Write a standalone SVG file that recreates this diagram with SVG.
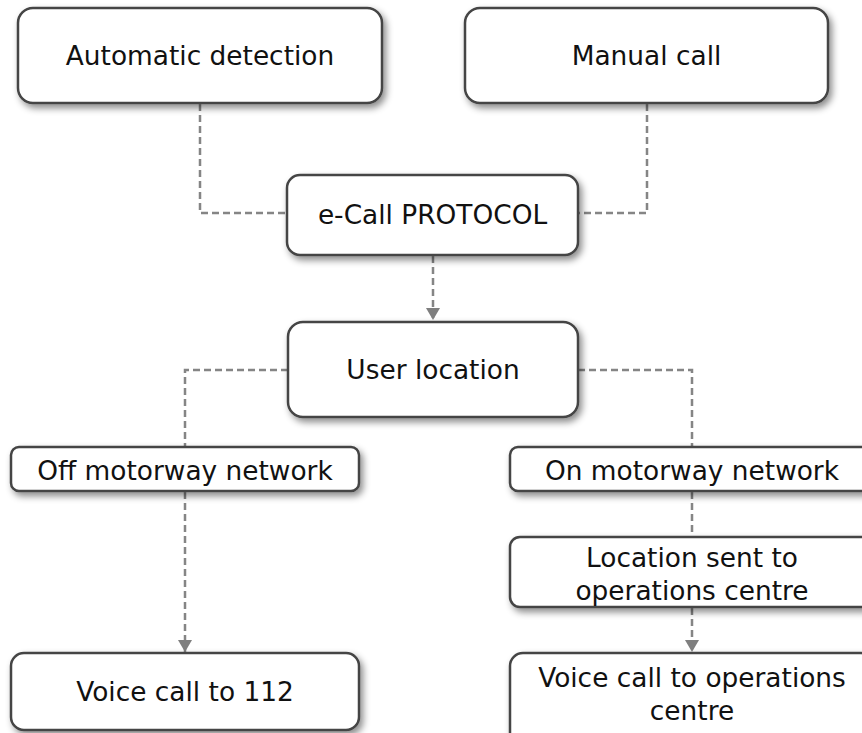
<svg xmlns="http://www.w3.org/2000/svg" width="862" height="733" viewBox="0 0 862 733">
  <defs>
    <filter id="sh" x="-10%" y="-20%" width="130%" height="150%">
      <feDropShadow dx="3" dy="4" stdDeviation="3.5" flood-color="#000" flood-opacity="0.45"/>
    </filter>
    <marker id="arr" markerWidth="14" markerHeight="16" refX="12" refY="7" orient="auto" markerUnits="userSpaceOnUse">
      <path d="M0,0 L12,7 L0,14 Z" fill="#7f7f7f"/>
    </marker>
  </defs>
  <style>
    .box { fill: #ffffff; stroke: #444444; stroke-width: 2.5; filter: url(#sh); }
    .lbl { font-family: "DejaVu Sans", Verdana, sans-serif; font-size: 26.4px; fill: #111111; text-anchor: middle; }
    .con { fill: none; stroke: #858585; stroke-width: 2.5; stroke-dasharray: 7 4; }
  </style>
  <rect width="862" height="733" fill="#ffffff"/>

  <g id="connectors">
    <path class="con" d="M200,104 V213 H287"/>
    <path class="con" d="M647,104 V213 H578"/>
    <path class="con" d="M433,256 V320" marker-end="url(#arr)"/>
    <path class="con" d="M288,370 H185 V447"/>
    <path class="con" d="M578,370 H692 V447"/>
    <path class="con" d="M185,492 V652" marker-end="url(#arr)"/>
    <path class="con" d="M692,492 V537"/>
    <path class="con" d="M692,608 V652" marker-end="url(#arr)"/>
  </g>

  <g id="automatic-detection">
    <rect class="box" x="18" y="8" width="364" height="95" rx="15"/>
    <text class="lbl" x="200" y="65">Automatic detection</text>
  </g>
  <g id="manual-call">
    <rect class="box" x="465" y="8" width="363" height="95" rx="15"/>
    <text class="lbl" x="646.5" y="65">Manual call</text>
  </g>
  <g id="ecall-protocol">
    <rect class="box" x="287" y="175" width="291" height="80" rx="13"/>
    <text class="lbl" x="432.5" y="224">e-Call PROTOCOL</text>
  </g>
  <g id="user-location">
    <rect class="box" x="288" y="322" width="290" height="95" rx="15"/>
    <text class="lbl" x="433" y="379">User location</text>
  </g>
  <g id="off-motorway">
    <rect class="box" x="11" y="447" width="348" height="44" rx="8"/>
    <text class="lbl" x="185" y="480">Off motorway network</text>
  </g>
  <g id="on-motorway">
    <rect class="box" x="510" y="447" width="364" height="44" rx="8"/>
    <text class="lbl" x="692" y="480">On motorway network</text>
  </g>
  <g id="location-sent">
    <rect class="box" x="510" y="537" width="364" height="70" rx="10"/>
    <text class="lbl" x="692" y="567">Location sent to</text>
    <text class="lbl" x="692" y="600">operations centre</text>
  </g>
  <g id="voice-112">
    <rect class="box" x="11" y="653" width="348" height="77" rx="13"/>
    <text class="lbl" x="185" y="701">Voice call to 112</text>
  </g>
  <g id="voice-ops">
    <rect class="box" x="510" y="653" width="364" height="95" rx="13"/>
    <text class="lbl" x="692" y="687">Voice call to operations</text>
    <text class="lbl" x="692" y="720">centre</text>
  </g>
</svg>
